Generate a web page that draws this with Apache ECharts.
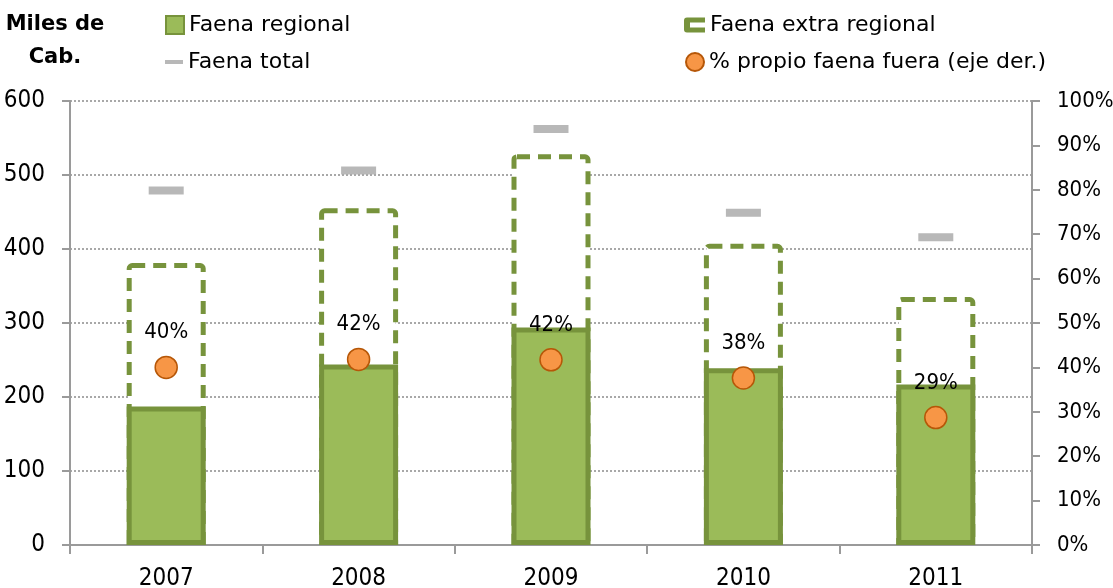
<!DOCTYPE html>
<html>
<head>
<meta charset="utf-8">
<script src="https://cdn.jsdelivr.net/npm/echarts@6/dist/echarts.min.js"></script>
<style>
html,body{margin:0;padding:0;background:#fff;}
#chart{width:1113px;height:588px;}
</style>
</head>
<body>
<div id="chart"></div>
<script>
const years = ['2007','2008','2009','2010','2011'];
const faenaRegional = [187, 244, 294, 239, 217];
const faenaExtra = [194, 211, 234, 168, 118];
const faenaTotal = [479, 506, 562, 449, 416];
const pctFuera = [40.0, 41.8, 41.7, 37.6, 28.7];
const leftTicks = [0, 100, 200, 300, 400, 500, 600];

// top of the stacked (regional + extra regional) column
const stackTop = faenaRegional.map((v, i) => v + faenaExtra[i]);

const COND = '"DejaVu Sans Condensed", "Noto Sans", sans-serif';
const WIDE = '"DejaVu Sans", "Noto Sans", sans-serif';
const txt = {fontFamily: COND, fontSize: 24, color: '#000'};
const pctTxt = {fontFamily: COND, fontSize: 22, color: '#000'};
const legTxt = {fontFamily: WIDE, fontSize: 22, color: '#000'};
const GREEN = '#77933C', FILL = '#9BBB59', GRAY = '#A6A6A6', AXIS = '#9A9A9A';
const BW = 79;

const chart = echarts.init(document.getElementById('chart'));
chart.setOption({
  animation: false,
  backgroundColor: '#fff',
  graphic: [{
    type: 'text', x: 55, y: 8,
    style: {text: 'Miles de\nCab.', align: 'center', fontFamily: WIDE, fontSize: 21, fontWeight: 'bold', lineHeight: 33, fill: '#000'}
  }],
  legend: [
    {data: [{name: 'Faena regional', icon: 'rect'}], left: 160, top: 9, itemWidth: 18, itemHeight: 18, itemGap: 0, textStyle: legTxt, selectedMode: false},
    {data: [{name: 'Faena total', icon: 'rect'}], left: 160, top: 46, itemWidth: 18, itemHeight: 4, itemGap: 0, textStyle: legTxt, selectedMode: false},
    {data: [{name: 'Faena extra regional', icon: 'path://M3,0 H21 V5 H6 V10 H21 V15 H3 Q0,15 0,12 V3 Q0,0 3,0 Z', itemStyle: {color: GREEN, borderWidth: 0}}],
     left: 679, top: 9, itemWidth: 21, itemHeight: 15, itemGap: 0, textStyle: legTxt, selectedMode: false},
    {data: [{name: '% propio faena fuera (eje der.)', icon: 'circle'}], left: 680, top: 46, itemWidth: 18, itemHeight: 18, itemGap: 0, textStyle: legTxt, selectedMode: false}
  ],
  grid: {left: 70, right: 81, top: 101, bottom: 43, containLabel: false, outerBoundsMode: 'none'},
  xAxis: {
    type: 'category', data: years, boundaryGap: true,
    axisLine: {lineStyle: {color: AXIS, width: 2}},
    axisTick: {show: true, alignWithLabel: false, length: 9, lineStyle: {color: AXIS, width: 2}},
    axisLabel: Object.assign({margin: 22}, txt)
  },
  yAxis: [
    {
      type: 'value', min: 0, max: 600, interval: 100,
      axisLine: {show: true, lineStyle: {color: AXIS, width: 2}},
      axisTick: {show: true, length: 8, lineStyle: {color: AXIS, width: 2}},
      axisLabel: Object.assign({margin: 25, customValues: leftTicks}, txt),
      splitLine: {show: true, lineStyle: {color: '#8c8c8c', width: 1.5, type: [2, 2]}}
    },
    {
      type: 'value', min: 0, max: 100, interval: 10, position: 'right',
      axisLine: {show: true, lineStyle: {color: AXIS, width: 2}},
      axisTick: {show: true, length: 8, lineStyle: {color: AXIS, width: 2}},
      axisLabel: Object.assign({margin: 25, formatter: '{value}%'}, pctTxt),
      splitLine: {show: false}
    }
  ],
  series: [
    {
      name: 'Faena extra regional', type: 'bar', data: stackTop, barWidth: BW, barGap: '-100%', z: 2,
      itemStyle: {color: '#fff', borderColor: GREEN, borderWidth: 5, borderType: [13, 8], borderRadius: [3, 3, 0, 0]}
    },
    {
      name: 'Faena regional', type: 'bar', data: faenaRegional, barWidth: BW, barGap: '-100%', z: 3,
      itemStyle: {color: FILL, borderColor: GREEN, borderWidth: 5}
    },
    {
      name: 'Faena total', type: 'scatter', data: faenaTotal, symbol: 'rect', symbolSize: [35, 8], z: 4,
      itemStyle: {color: GRAY}
    },
    {
      name: '% propio faena fuera (eje der.)', type: 'scatter', yAxisIndex: 1, data: pctFuera,
      symbol: 'circle', symbolSize: 22, z: 5,
      itemStyle: {color: '#F79646', borderColor: '#B65708', borderWidth: 1.5, opacity: 1},
      label: Object.assign({show: true, position: 'top', distance: 12, formatter: p => Math.round(p.value) + '%'}, pctTxt)
    }
  ]
});
</script>
</body>
</html>
